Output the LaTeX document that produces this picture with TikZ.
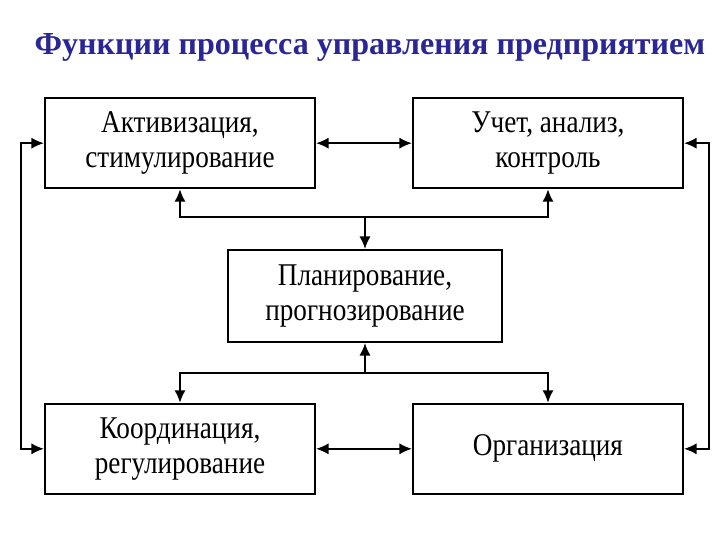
\documentclass[tikz,border=0pt]{standalone}
\usepackage{fontspec}
\setmainfont[FakeStretch=0.86]{Liberation Serif}
\newfontfamily\titlefont{Liberation Serif}
\usepackage{xcolor}
\usepackage{tikz}
\usetikzlibrary{calc, arrows.meta, positioning}
\definecolor{titleblue}{RGB}{42,38,150}

\begin{document}
\begin{tikzpicture}[
        node distance = 1.5cm and 1.5cm,
        box/.style = {draw, rectangle, minimum width=6.75cm, minimum height=2.25cm, align=center, font=\fontsize{22.5}{25}\selectfont, line width=1.3pt, inner sep=4pt},
        heading/.style = {font=\titlefont\bfseries\fontsize{22.8}{26}\selectfont, text=titleblue},
        arrow/.style = {draw=black, -{Latex[length=9pt,width=8pt]}, line width=1.5pt},
        twoway/.style = {draw=black, {Latex[length=9pt,width=8pt]}-{Latex[length=9pt,width=8pt]}, line width=1.5pt}
    ]
        \useasboundingbox (-9.125,-6.1) rectangle (8.875,7.4);

        % Central function
        \node (plan) [box, minimum width=6.85cm, minimum height=2.3cm] {Планирование,\\прогнозирование};

        % Top row
        \node (act) [box, above=1.5cm of plan, xshift=-4.625cm] {Активизация,\\стимулирование};
        \node (uchet) [box, above=1.5cm of plan, xshift=4.575cm] {Учет, анализ,\\контроль};

        % Bottom row
        \node (koord) [box, below=1.5cm of plan, xshift=-4.625cm] {Координация,\\регулирование};
        \node (org) [box, below=1.5cm of plan, xshift=4.575cm] {Организация};

        % Title
        \node (title) [heading] at ($(act.north)!0.5!(uchet.north) + (0.15cm,1.25cm)$) {Функции процесса управления предприятием};

        % Arrows
        \draw [twoway] (act.east) -- (uchet.west);
        \draw [twoway] (koord.east) -- (org.west);

        \coordinate (splitTop) at ($(plan.north) + (0,0.8cm)$);
        \draw [arrow] (splitTop) -- (plan.north);
        \draw [arrow] (splitTop) -| (act.south);
        \draw [arrow] (splitTop) -| (uchet.south);

        \coordinate (splitBot) at ($(plan.south) + (0,-0.75cm)$);
        \draw [arrow] (splitBot) -- (plan.south);
        \draw [arrow] (splitBot) -| (koord.north);
        \draw [arrow] (splitBot) -| (org.north);

        \draw [twoway] (act.west) -- ++(-0.575cm,0) |- (koord.west);
        \draw [twoway] (uchet.east) -- ++(0.625cm,0) |- (org.east);

    \end{tikzpicture}
\end{document}
